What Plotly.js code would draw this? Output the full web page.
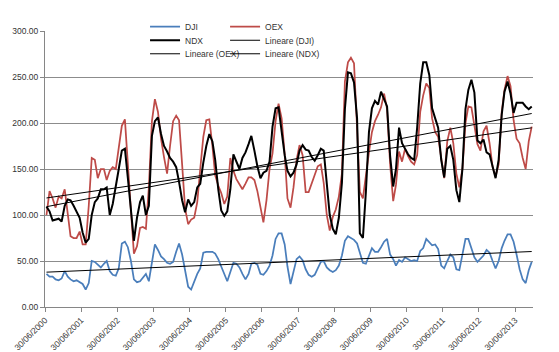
<!DOCTYPE html>
<html>
<head>
<meta charset="utf-8">
<script src="https://cdn.plot.ly/plotly-3.0.1.min.js"></script>
<style>html,body{margin:0;padding:0;background:#fff;}#chart{width:559px;height:352px;}</style>
</head>
<body>
<div id="chart"></div>
<script>
// Monthly observation dates
const months = [
'2000-07-15','2000-08-15','2000-09-15','2000-10-15','2000-11-15','2000-12-15',
'2001-01-15','2001-02-15','2001-03-15','2001-04-15','2001-05-15','2001-06-15','2001-07-15','2001-08-15','2001-09-15','2001-10-15','2001-11-15','2001-12-15',
'2002-01-15','2002-02-15','2002-03-15','2002-04-15','2002-05-15','2002-06-15','2002-07-15','2002-08-15','2002-09-15','2002-10-15','2002-11-15','2002-12-15',
'2003-01-15','2003-02-15','2003-03-15','2003-04-15','2003-05-15','2003-06-15','2003-07-15','2003-08-15','2003-09-15','2003-10-15','2003-11-15','2003-12-15',
'2004-01-15','2004-02-15','2004-03-15','2004-04-15','2004-05-15','2004-06-15','2004-07-15','2004-08-15','2004-09-15','2004-10-15','2004-11-15','2004-12-15',
'2005-01-15','2005-02-15','2005-03-15','2005-04-15','2005-05-15','2005-06-15','2005-07-15','2005-08-15','2005-09-15','2005-10-15','2005-11-15','2005-12-15',
'2006-01-15','2006-02-15','2006-03-15','2006-04-15','2006-05-15','2006-06-15','2006-07-15','2006-08-15','2006-09-15','2006-10-15','2006-11-15','2006-12-15',
'2007-01-15','2007-02-15','2007-03-15','2007-04-15','2007-05-15','2007-06-15','2007-07-15','2007-08-15','2007-09-15','2007-10-15','2007-11-15','2007-12-15',
'2008-01-15','2008-02-15','2008-03-15','2008-04-15','2008-05-15','2008-06-15','2008-07-15','2008-08-15','2008-09-15','2008-10-15','2008-11-15','2008-12-15',
'2009-01-15','2009-02-15','2009-03-15','2009-04-15','2009-05-15','2009-06-15','2009-07-15','2009-08-15','2009-09-15','2009-10-15','2009-11-15','2009-12-15',
'2010-01-15','2010-02-15','2010-03-15','2010-04-15','2010-05-15','2010-06-15','2010-07-15','2010-08-15','2010-09-15','2010-10-15','2010-11-15','2010-12-15',
'2011-01-15','2011-02-15','2011-03-15','2011-04-15','2011-05-15','2011-06-15','2011-07-15','2011-08-15','2011-09-15','2011-10-15','2011-11-15','2011-12-15',
'2012-01-15','2012-02-15','2012-03-15','2012-04-15','2012-05-15','2012-06-15','2012-07-15','2012-08-15','2012-09-15','2012-10-15','2012-11-15','2012-12-15',
'2013-01-15','2013-02-15','2013-03-15','2013-04-15','2013-05-15','2013-06-15','2013-07-15','2013-08-15','2013-09-15','2013-10-15','2013-11-15','2013-12-15'
];

const dji = [
36,33,33,30,29,31,39,33,30,28,
29,27,25,19,26,50,49,46,43,47,
50,39,35,34,42,69,71,65,50,30,
27,28,32,36,28,50,68,62,55,52,
48,47,49,60,69,57,38,22,19,28,
36,42,59,60,60,60,58,52,44,35,
28,38,48,47,43,36,30,36,47,48,
46,36,35,39,45,56,74,80,80,68,
44,25,37,52,55,51,41,35,33,35,
42,49,50,43,40,38,40,45,56,72,
77,75,73,69,60,48,47,55,64,60,
60,65,71,74,57,52,45,51,49,54,
52,50,51,50,61,64,74,70,67,68,
63,45,42,50,57,54,41,40,58,74,
74,65,54,49,53,56,62,59,50,42,
50,64,72,79,79,71,57,41,30,26,
40,49
];

const oex = [
100,126,118,108,120,118,128,104,77,75,
75,82,68,68,110,162,160,140,150,150,
138,148,152,150,175,197,204,160,105,58,
66,86,87,85,130,202,226,212,183,163,
145,175,202,208,203,155,107,90,95,97,
114,150,185,203,204,175,143,132,124,112,
120,162,148,139,134,128,134,141,141,138,
126,107,92,116,150,167,202,221,205,166,
118,108,130,160,176,165,125,125,135,145,
153,155,135,100,83,98,106,120,145,245,
266,271,265,195,125,118,145,168,190,202,
209,217,232,215,155,115,133,169,158,172,
164,158,155,165,212,230,243,238,205,190,
185,160,140,180,195,178,145,130,150,200,
218,217,195,177,170,191,197,178,152,142,
155,212,236,251,240,203,183,178,162,150,
180,196
];

const ndx = [
109,104,94,95,96,93,110,117,116,110,
103,97,81,70,74,100,114,118,128,128,
130,100,112,134,150,170,172,140,105,72,
97,114,121,100,110,186,202,206,188,175,
169,162,158,152,136,116,103,117,110,114,
130,134,157,175,188,180,160,128,105,99,
104,128,166,158,150,162,168,177,186,170,
153,140,146,148,158,196,216,217,190,165,
148,142,146,155,170,176,171,170,163,159,
165,172,170,130,100,85,79,97,135,215,
255,254,244,205,80,75,125,190,216,224,
220,234,226,218,164,131,150,195,178,172,
166,162,160,195,243,266,266,252,216,205,
195,160,141,172,175,160,127,114,150,215,
236,247,233,181,178,182,168,166,153,140,
160,209,234,245,232,211,222,222,222,218,
215,218
];

const tickDates = ['2000-06-30','2001-06-30','2002-06-30','2003-06-30','2004-06-30','2005-06-30','2006-06-30',
  '2007-06-30','2008-06-30','2009-06-30','2010-06-30','2011-06-30','2012-06-30','2013-06-30'];
const tickLabels = ['30/06/2000','30/06/2001','30/06/2002','30/06/2003','30/06/2004','30/06/2005','30/06/2006',
  '30/06/2007','30/06/2008','30/06/2009','30/06/2010','30/06/2011','30/06/2012','30/06/2013'];

// Linear trendline (least squares on the observation index, as the spreadsheet does)
function trend(ys) {
  const n = ys.length;
  let sx = 0, sy = 0, sxx = 0, sxy = 0;
  for (let i = 0; i < n; i++) { sx += i; sy += ys[i]; sxx += i * i; sxy += i * ys[i]; }
  const a = (n * sxy - sx * sy) / (n * sxx - sx * sx);
  const b = (sy - a * sx) / n;
  return { x: [months[0], months[n - 1]], y: [b, b + a * (n - 1)] };
}

const fontFam = '"Liberation Sans", Arial, sans-serif';
const tD = trend(dji), tO = trend(oex), tN = trend(ndx);

const traces = [
  { x: months, y: dji, name: 'DJI', type: 'scatter', mode: 'lines', line: { color: '#4A7EBB', width: 1.75 }, legend: 'legend' },
  { x: months, y: oex, name: 'OEX', type: 'scatter', mode: 'lines', line: { color: '#BE4B48', width: 1.75 }, legend: 'legend2' },
  { x: months, y: ndx, name: 'NDX', type: 'scatter', mode: 'lines', line: { color: '#000000', width: 2 }, legend: 'legend3' },
  { x: tD.x, y: tD.y, name: 'Lineare (DJI)', type: 'scatter', mode: 'lines', line: { color: '#000000', width: 1 }, legend: 'legend4' },
  { x: tO.x, y: tO.y, name: 'Lineare (OEX)', type: 'scatter', mode: 'lines', line: { color: '#000000', width: 1 }, legend: 'legend5' },
  { x: tN.x, y: tN.y, name: 'Lineare (NDX)', type: 'scatter', mode: 'lines', line: { color: '#000000', width: 1 }, legend: 'legend6' }
];

const legBase = {
  orientation: 'h', xanchor: 'left', yanchor: 'top',
  bgcolor: 'rgba(0,0,0,0)', borderwidth: 0,
  font: { family: fontFam, size: 8.5, color: '#333333' }
};
const col1 = 0.205, col2 = 0.369;
const row1 = 1.068, row2 = 1.019, row3 = 0.970;

const layout = {
  width: 559, height: 352,
  margin: { l: 45, r: 26, t: 17, b: 45, pad: 0 },
  paper_bgcolor: '#ffffff', plot_bgcolor: '#ffffff',
  font: { family: fontFam, size: 8.5, color: '#333333' },
  showlegend: true,
  legend:  Object.assign({}, legBase, { x: col1, y: row1 }),
  legend2: Object.assign({}, legBase, { x: col2, y: row1 }),
  legend3: Object.assign({}, legBase, { x: col1, y: row2 }),
  legend4: Object.assign({}, legBase, { x: col2, y: row2 }),
  legend5: Object.assign({}, legBase, { x: col1, y: row3 }),
  legend6: Object.assign({}, legBase, { x: col2, y: row3 }),
  xaxis: {
    type: 'date', range: ['2000-06-30', '2013-12-28'],
    tickmode: 'array', tickvals: tickDates, ticktext: tickLabels, tickangle: -45,
    showgrid: false, zeroline: false, showline: true, linecolor: '#868686', linewidth: 1,
    ticks: 'outside', ticklen: 4, tickcolor: '#868686',
    tickfont: { family: fontFam, size: 8.5, color: '#333333' }
  },
  yaxis: {
    range: [0, 300], tickmode: 'linear', tick0: 0, dtick: 50, tickformat: '.2f',
    showgrid: true, gridcolor: '#8C8C8C', gridwidth: 1, zeroline: false,
    showline: true, linecolor: '#868686', linewidth: 1,
    ticks: 'outside', ticklen: 4, tickcolor: '#868686',
    tickfont: { family: fontFam, size: 8.5, color: '#333333' }
  }
};

Plotly.newPlot('chart', traces, layout, { displayModeBar: false, staticPlot: true });
</script>
</body>
</html>
